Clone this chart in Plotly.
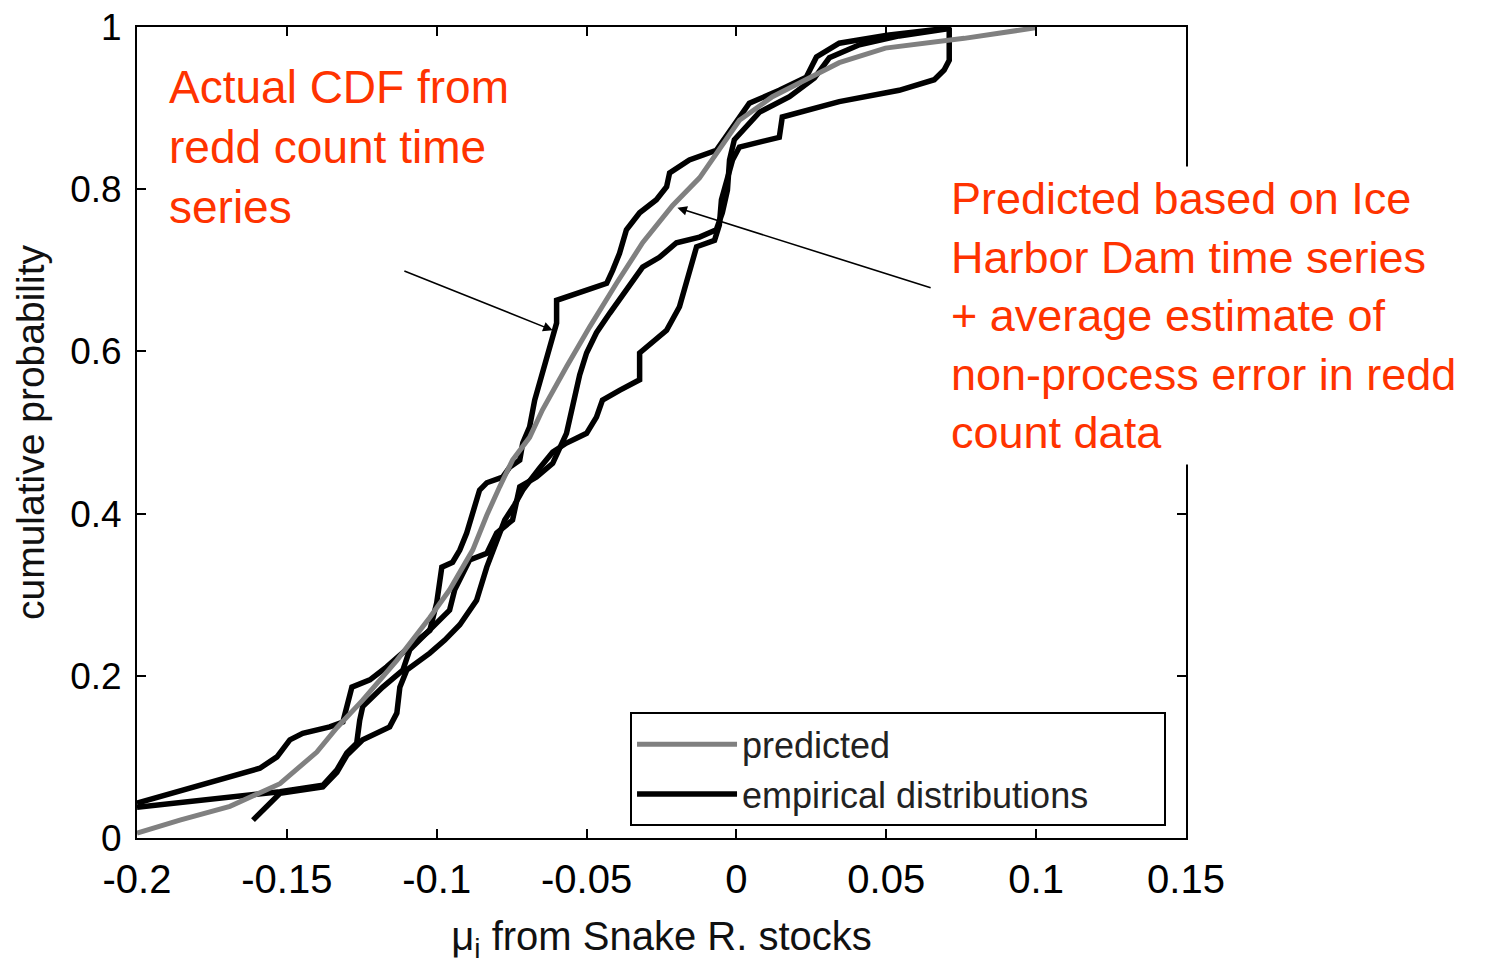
import plotly.graph_objects as go

# ---------------- data ----------------
pred_x = [-0.2, -0.1857, -0.169, -0.1523, -0.14, -0.1333, -0.1247, -0.1133, -0.1023, -0.0957,
          -0.088, -0.0833, -0.079, -0.0747, -0.069, -0.0647, -0.0567, -0.049, -0.04, -0.0313,
          -0.0213, -0.0123, 0.001, 0.012, 0.021, 0.0343, 0.0497, 0.076, 0.0997]
pred_y = [0.006, 0.022, 0.039, 0.067, 0.106, 0.136, 0.170, 0.219, 0.272, 0.306,
          0.355, 0.398, 0.433, 0.466, 0.494, 0.528, 0.581, 0.630, 0.684, 0.734,
          0.780, 0.814, 0.885, 0.914, 0.931, 0.956, 0.974, 0.986, 0.999]

emp1_x = [-0.2, -0.1847, -0.169, -0.159, -0.1533, -0.149, -0.1447, -0.1357, -0.1313, -0.1297,
          -0.1283, -0.1223, -0.1167, -0.109, -0.1023, -0.1, -0.0983, -0.0947, -0.0923, -0.09,
          -0.088, -0.0857, -0.0833, -0.078, -0.0757, -0.0723, -0.0713, -0.069, -0.0673, -0.0647,
          -0.0613, -0.06, -0.06, -0.0567, -0.049, -0.0433, -0.0413, -0.039, -0.0367, -0.0323,
          -0.0267, -0.0233, -0.0223, -0.0157, -0.0067, -0.0007, 0.0043, 0.0143, 0.0233, 0.0267,
          0.0343, 0.0503, 0.0717]
emp1_y = [0.043, 0.059, 0.075, 0.086, 0.100, 0.121, 0.129, 0.137, 0.143, 0.166,
          0.186, 0.195, 0.211, 0.236, 0.256, 0.290, 0.334, 0.340, 0.355, 0.376,
          0.401, 0.429, 0.438, 0.445, 0.457, 0.466, 0.487, 0.507, 0.540, 0.573,
          0.614, 0.635, 0.663, 0.667, 0.676, 0.684, 0.700, 0.721, 0.750, 0.771,
          0.787, 0.803, 0.820, 0.836, 0.848, 0.879, 0.906, 0.922, 0.938, 0.963,
          0.980, 0.990, 0.999]

emp2_x = [-0.2, -0.169, -0.1523, -0.138, -0.1333, -0.13, -0.1267, -0.1257, -0.1247, -0.118,
          -0.1113, -0.109, -0.104, -0.099, -0.0957, -0.094, -0.0923, -0.089, -0.0833, -0.08,
          -0.0747, -0.0733, -0.0723, -0.0667, -0.0613, -0.0567, -0.0547, -0.0523, -0.05, -0.0467,
          -0.0423, -0.0367, -0.0313, -0.0257, -0.02, -0.0123, -0.0067, -0.0047, -0.003, -0.0023,
          -0.0007, 0.0077, 0.0177, 0.026, 0.031, 0.041, 0.0543, 0.071]
emp2_y = [0.038, 0.051, 0.057, 0.065, 0.084, 0.105, 0.117, 0.145, 0.162, 0.186,
          0.207, 0.232, 0.250, 0.269, 0.281, 0.306, 0.318, 0.343, 0.351, 0.376,
          0.392, 0.420, 0.433, 0.445, 0.462, 0.499, 0.534, 0.571, 0.598, 0.623,
          0.647, 0.676, 0.704, 0.716, 0.734, 0.741, 0.750, 0.771, 0.799, 0.836,
          0.861, 0.895, 0.914, 0.937, 0.962, 0.978, 0.989, 0.998]

emp3_x = [-0.1613, -0.1557, -0.1523, -0.138, -0.1333, -0.13, -0.1267, -0.1247, -0.1157, -0.1133,
          -0.1123, -0.11, -0.1023, -0.0973, -0.0923, -0.089, -0.0867, -0.0833, -0.0807, -0.0773,
          -0.074, -0.0713, -0.0657, -0.0613, -0.0567, -0.05, -0.0467, -0.0447, -0.039, -0.0323,
          -0.0323, -0.03, -0.0233, -0.019, -0.0157, -0.0133, -0.0073, -0.0057, -0.005, -0.0033,
          -0.0013, 0.001, 0.0143, 0.0153, 0.0343, 0.0543, 0.066, 0.0693, 0.071, 0.071]
emp3_y = [0.022, 0.043, 0.055, 0.063, 0.081, 0.102, 0.115, 0.121, 0.137, 0.154,
          0.186, 0.207, 0.228, 0.244, 0.263, 0.281, 0.293, 0.334, 0.361, 0.392,
          0.411, 0.429, 0.456, 0.476, 0.487, 0.499, 0.519, 0.540, 0.552, 0.565,
          0.598, 0.605, 0.626, 0.655, 0.697, 0.729, 0.737, 0.756, 0.787, 0.811,
          0.836, 0.852, 0.864, 0.889, 0.908, 0.922, 0.935, 0.947, 0.959, 0.999]

x_ticks = [-0.2, -0.15, -0.1, -0.05, 0, 0.05, 0.1, 0.15]
x_labels = ["-0.2", "-0.15", "-0.1", "-0.05", "0", "0.05", "0.1", "0.15"]
y_ticks = [0, 0.2, 0.4, 0.6, 0.8, 1]
y_labels = ["0", "0.2", "0.4", "0.6", "0.8", "1"]

note_left = "Actual CDF from<br>redd count time<br>series"
note_right = ("Predicted based on Ice<br>Harbor Dam time series<br>+ average estimate of<br>"
              "non-process error in redd<br>count data")
# arrow (tip x, tip y, tail x, tail y) in data units
arrow_left = [-0.0613, 0.626, -0.1113, 0.700]
arrow_right = [-0.0197, 0.777, 0.0653, 0.678]

# ---------------- figure ----------------
SANS = "Liberation Sans, Arial, Helvetica, sans-serif"
RED = "#ff3300"
PAD = "\u00a0" * 7

fig = go.Figure()
for i, (ex, ey) in enumerate([(emp1_x, emp1_y), (emp2_x, emp2_y), (emp3_x, emp3_y)]):
    fig.add_trace(go.Scatter(x=ex, y=ey, mode="lines", name="empirical distributions" + PAD,
                             legendgroup="emp", showlegend=(i == 0), legendrank=2,
                             line=dict(color="black", width=5.5)))
fig.add_trace(go.Scatter(x=pred_x, y=pred_y, mode="lines", name="predicted",
                         line=dict(color="#808080", width=5), legendrank=1))

axis_common = dict(showline=True, linecolor="black", linewidth=2, mirror="allticks",
                   ticks="inside", ticklen=9, tickwidth=2, tickcolor="black",
                   showgrid=False, zeroline=False, automargin=False)

fig.update_xaxes(range=[-0.2, 0.15], tickvals=x_ticks, ticktext=x_labels,
                 tickfont=dict(family=SANS, size=40, color="black"),
                 ticklabelstandoff=5,
                 title=dict(text="\u03bc<sub>i</sub> from Snake R. stocks",
                            font=dict(family=SANS, size=40, color="#111111"), standoff=22),
                 **axis_common)
fig.update_yaxes(range=[0, 1], tickvals=y_ticks, ticktext=y_labels,
                 tickfont=dict(family=SANS, size=37, color="black"),
                 ticklabelstandoff=6,
                 title=dict(text="cumulative probability",
                            font=dict(family=SANS, size=39, color="#111111"), standoff=14),
                 **axis_common)

fig.add_annotation(text=note_left, xref="paper", yref="paper", x=0.026, y=0.964,
                   xanchor="left", yanchor="top", align="left", showarrow=False,
                   font=dict(family=SANS, size=46, color=RED), bgcolor="white", borderpad=4)
fig.add_annotation(text=note_right, xref="paper", yref="paper", x=0.769, y=0.829,
                   xanchor="left", yanchor="top", align="left", showarrow=False,
                   font=dict(family=SANS, size=45, color=RED), bgcolor="white", borderpad=6)
for a in (arrow_left, arrow_right):
    fig.add_annotation(x=a[0], y=a[1], ax=a[2], ay=a[3], xref="x", yref="y",
                       axref="x", ayref="y", text="", showarrow=True,
                       arrowhead=2, arrowsize=1.2, arrowwidth=1.6, arrowcolor="black")

fig.update_layout(
    width=1500, height=971,
    margin=dict(l=137, r=314, t=27, b=133),
    plot_bgcolor="white", paper_bgcolor="white",
    legend=dict(x=0.47, y=0.155, xanchor="left", yanchor="top",
                bgcolor="white", bordercolor="black", borderwidth=2,
                font=dict(family=SANS, size=36, color="#222222"),
                itemwidth=100, tracegroupgap=0, traceorder="normal"),
)

fig.write_html("out.html", config={"displayModeBar": False},
               post_script="document.body.style.margin='0px';")
